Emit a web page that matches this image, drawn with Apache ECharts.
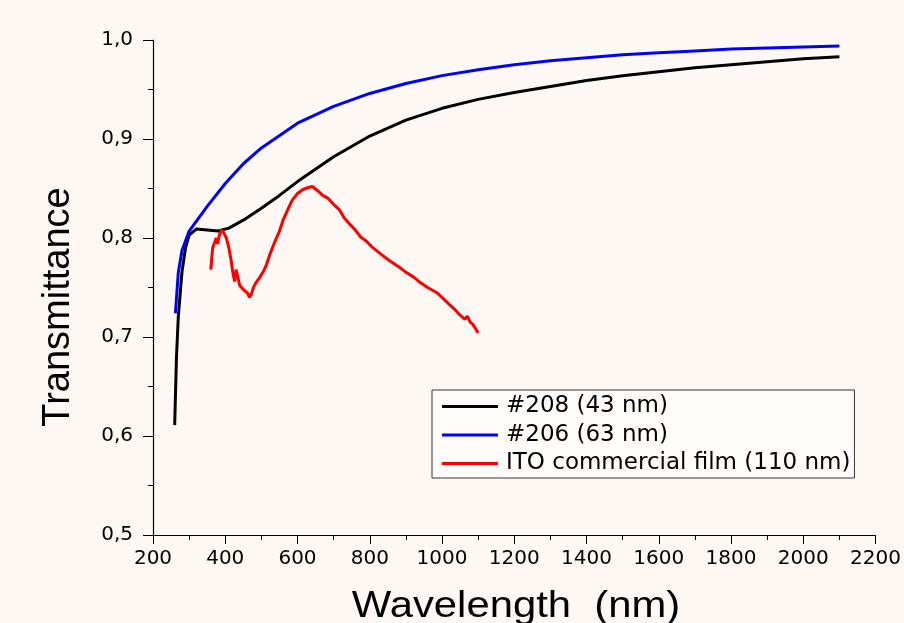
<!DOCTYPE html>
<html>
<head>
<meta charset="utf-8">
<script src="https://cdn.jsdelivr.net/npm/echarts@6/dist/echarts.min.js"></script>
<style>
  html, body { margin: 0; padding: 0; background: #fdf8f4; }
  #chart { width: 904px; height: 623px; }
</style>
</head>
<body>
<div id="chart"></div>
<script>
// wavelength (nm) and transmittance
const wl208 = [260, 265, 270, 280, 290, 300, 320, 350, 380, 410, 450, 500, 550, 600, 700, 800, 900, 1000, 1100, 1200, 1300, 1400, 1500, 1600, 1700, 1800, 1900, 2000, 2100];
const t208  = [0.611, 0.680, 0.720, 0.765, 0.790, 0.803, 0.809, 0.808, 0.807, 0.810, 0.818, 0.830, 0.843, 0.857, 0.882, 0.903, 0.919, 0.931, 0.940, 0.947, 0.953, 0.959, 0.964, 0.968, 0.972, 0.975, 0.978, 0.981, 0.983];

const wl206 = [262, 270, 280, 300, 350, 400, 450, 500, 600, 700, 800, 900, 1000, 1100, 1200, 1300, 1400, 1500, 1600, 1700, 1800, 1900, 2000, 2100];
const t206  = [0.724, 0.765, 0.787, 0.807, 0.832, 0.855, 0.875, 0.891, 0.916, 0.933, 0.946, 0.956, 0.964, 0.970, 0.975, 0.979, 0.982, 0.985, 0.987, 0.989, 0.991, 0.992, 0.993, 0.994];

const wlIto = [360, 365, 370, 375, 379, 383, 389, 395, 403, 410, 416, 421, 426, 430, 434, 440, 444, 450, 455, 462, 467, 472, 478, 485, 495, 505, 513, 525, 537, 549, 560, 572, 585, 600, 615, 630, 641, 655, 670, 685, 700, 715, 730, 745, 760, 775, 790, 806, 830, 855, 880, 898, 920, 940, 960, 985, 1000, 1017, 1035, 1050, 1063, 1070, 1078, 1085, 1092, 1100];
const tIto  = [0.768, 0.790, 0.795, 0.800, 0.794, 0.802, 0.808, 0.806, 0.800, 0.790, 0.778, 0.765, 0.756, 0.768, 0.762, 0.752, 0.753, 0.748, 0.750, 0.744, 0.740, 0.743, 0.750, 0.755, 0.760, 0.766, 0.772, 0.785, 0.796, 0.806, 0.818, 0.828, 0.838, 0.845, 0.849, 0.851, 0.852, 0.848, 0.843, 0.840, 0.834, 0.829, 0.820, 0.814, 0.808, 0.801, 0.797, 0.791, 0.784, 0.777, 0.771, 0.766, 0.761, 0.755, 0.750, 0.745, 0.740, 0.734, 0.728, 0.722, 0.718, 0.721, 0.715, 0.713, 0.709, 0.704];

const names = ['#208 (43 nm)', '#206 (63 nm)', 'ITO commercial film (110 nm)'];
const colors = ['#000000', '#0000ff', '#ff0000'];

function zip(xs, ys) { return xs.map((x, i) => [x, ys[i]]); }

const chart = echarts.init(document.getElementById('chart'));
const font = 'Liberation Sans, Arial, sans-serif';
const wide = 'DejaVu Sans, sans-serif';

function lineSeries(i, data) {
  return {
    name: names[i],
    type: 'line',
    data: data,
    showSymbol: false,
    symbol: 'none',
    lineStyle: { color: colors[i], width: 3 },
    itemStyle: { color: colors[i] }
  };
}

chart.setOption({
  backgroundColor: '#fdf8f4',
  animation: false,
  grid: { left: 153, right: 24, top: 40, bottom: 88, containLabel: false },
  legend: {
    orient: 'vertical',
    left: 432,
    top: 390,
    padding: [5, 4, 3, 10],
    itemGap: 5.5,
    itemWidth: 56,
    itemHeight: 3,
    icon: 'rect',
    borderColor: '#333',
    borderWidth: 1,
    borderRadius: 0,
    backgroundColor: '#fffcfa',
    textStyle: { fontFamily: wide, fontSize: 23, color: '#000', padding: [0, 0, 0, 3] },
    data: names
  },
  graphic: [
    {
      type: 'text',
      x: 516, y: 607,
      scaleX: 1.13,
      style: {
        text: 'Wavelength  (nm)',
        font: '37px ' + font,
        fill: '#000',
        align: 'center',
        verticalAlign: 'middle'
      }
    },
    {
      type: 'text',
      x: 59, y: 307,
      rotation: Math.PI / 2,
      style: {
        text: 'Transmittance',
        font: '38px ' + font,
        fill: '#000',
        align: 'center',
        verticalAlign: 'middle'
      }
    }
  ],
  xAxis: {
    type: 'value',
    min: 200,
    max: 2200,
    interval: 200,
    axisLine: { show: true, lineStyle: { color: '#000', width: 1.2 } },
    axisTick: { show: true, inside: false, length: 9, lineStyle: { color: '#000' } },
    minorTick: { show: true, splitNumber: 2, length: 5, lineStyle: { color: '#000' } },
    axisLabel: { fontFamily: wide, fontSize: 20, color: '#000', margin: 14, formatter: v => String(v) },
    splitLine: { show: false }
  },
  yAxis: {
    type: 'value',
    min: 0.5,
    max: 1.0,
    interval: 0.1,
    axisLine: { show: true, lineStyle: { color: '#000', width: 1.2 } },
    axisTick: { show: true, inside: false, length: 10, lineStyle: { color: '#000' } },
    minorTick: { show: true, splitNumber: 2, length: 5, lineStyle: { color: '#000' } },
    axisLabel: {
      fontFamily: wide, fontSize: 20, color: '#000', margin: 20,
      formatter: v => v.toFixed(1).replace('.', ',')
    },
    splitLine: { show: false }
  },
  series: [
    lineSeries(0, zip(wl208, t208)),
    lineSeries(1, zip(wl206, t206)),
    lineSeries(2, zip(wlIto, tIto))
  ]
});
</script>
</body>
</html>
